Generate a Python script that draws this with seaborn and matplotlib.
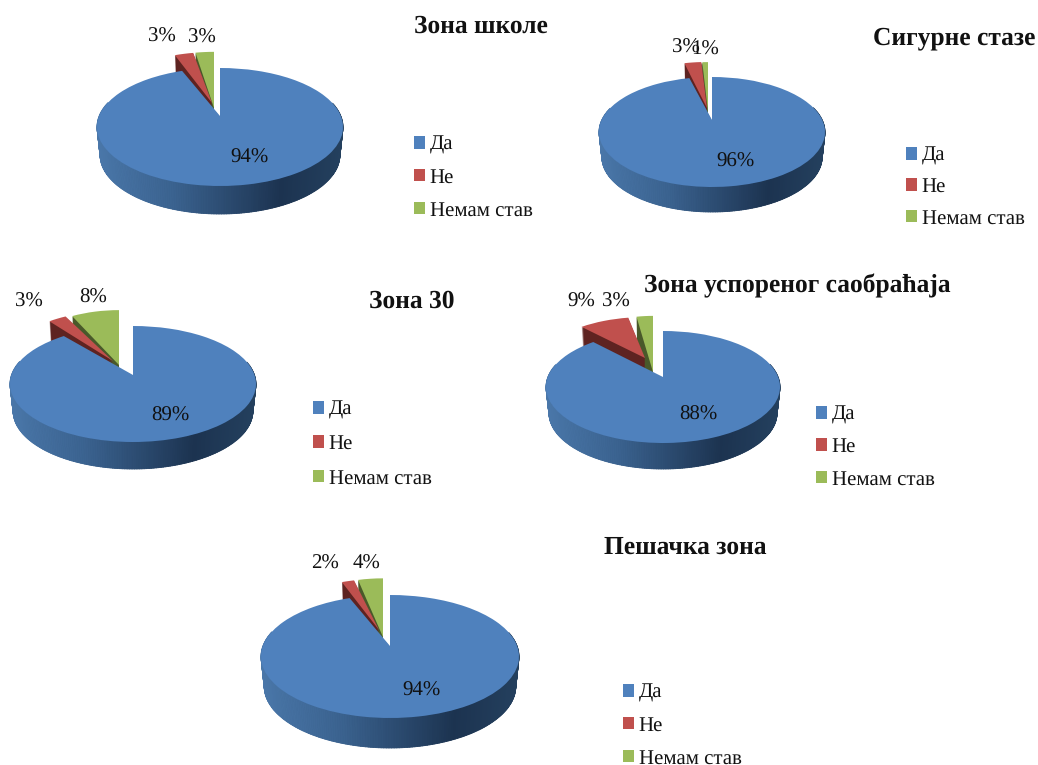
import matplotlib
matplotlib.use("Agg")
import numpy as np
import matplotlib.pyplot as plt
import seaborn as sns
from matplotlib.collections import PolyCollection
from matplotlib.colors import LinearSegmentedColormap
from matplotlib.legend import Legend
from matplotlib.patches import PathPatch
from matplotlib.transforms import Transform

# Survey answers, percent per zone type
answers = ["Да", "Не", "Немам став"]
zona_skole = [94, 3, 3]
sigurne_staze = [96, 3, 1]
zona_30 = [89, 3, 8]
zona_usporenog = [88, 9, 3]
pesacka_zona = [94, 2, 4]

titles = ["Зона школе", "Сигурне стазе", "Зона 30",
          "Зона успореног саобраћаја", "Пешачка зона"]
series = [zona_skole, sigurne_staze, zona_30, zona_usporenog, pesacka_zona]

# Layout in pixels: hub, reach up/down/sideways and rim depth of each pie;
# "red" and "green" give the pulled-out slices' tips and stretch (x, y)
layout = [
    dict(hub=(220, 116), up=48, down=70, half=123, depth=28,
         red=((212, 103), 0.98, 1.06), green=((214, 108), 0.97, 1.17),
         title=(481, 26), legend=(414, 143), step=33,
         labels=[(249, 158), (162, 37), (202, 38)]),
    dict(hub=(712, 120), up=43, down=67, half=113, depth=25,
         red=((707, 108), 1.0, 1.07), green=((708, 112), 1.0, 1.16),
         title=(954, 38), legend=(906, 154), step=31.5,
         labels=[(735, 162), (686, 48), (705, 50)]),
    dict(hub=(133, 375), up=49, down=67, half=123, depth=27,
         red=((113, 361), 0.92, 1.02), green=((119, 365), 0.91, 1.12),
         title=(412, 301), legend=(313, 408), step=34.5,
         labels=[(170, 416), (29, 302), (93, 298)]),
    dict(hub=(663, 377), up=46, down=66, half=117, depth=26,
         red=((645, 358), 0.91, 0.89), green=((653, 372), 0.90, 1.22),
         title=(797, 286), legend=(816, 413), step=32.5,
         labels=[(698, 415), (581, 302), (616, 302)]),
    dict(hub=(390, 646), up=51, down=72, half=129, depth=30,
         red=((379, 630), 0.92, 1.0), green=((383, 637), 0.92, 1.15),
         title=(685, 547), legend=(623, 691), step=33,
         labels=[(421, 691), (325, 564), (367, 564)]),
]

sns.set_theme(style="white")
plt.rcParams["font.family"] = ["Liberation Serif", "DejaVu Serif"]
plt.rcParams["text.hinting"] = "no_hinting"

top_colors = sns.color_palette(["#4f81bd", "#c0504d", "#9bbb59"])
side_colors = ["#2c4a6e", "#5e2321", "#49592a"]
rim_cmap = LinearSegmentedColormap.from_list(
    "rim", [(0, "#4a77a9"), (0.3, "#3b6390"), (0.75, "#1c3350"), (1, "#24405e")])


class PerspectiveDisc(Transform):
    """Projects the flat pie disc to pixels, tilted away from the viewer."""
    input_dims = output_dims = 2
    is_separable = False
    has_inverse = False

    def __init__(self, hub, up, down, half, depth, drop=0.0, kx=1.0, ky=1.0):
        super().__init__()
        self.hub = hub
        self.p = (down - up) / (down + up)
        self.ry = up * (1 + self.p) * ky
        self.rx = half * np.sqrt(1 - self.p ** 2) * kx
        self.drop = drop
        self.taper = 1 - 0.025 * drop / depth

    def transform_non_affine(self, values):
        pts = np.asarray(values, dtype=float)
        w = 1 + self.p * pts[:, 1]
        x = self.hub[0] + self.taper * self.rx * pts[:, 0] / w
        y = self.hub[1] - self.ry * pts[:, 1] / w + self.drop
        return np.column_stack([x, y])


fig = plt.figure(figsize=(10.38, 7.65), dpi=100, facecolor="white")
ax = fig.add_axes([0, 0, 1, 1])

for values, name, cfg in zip(series, titles, layout):
    wedges, _ = ax.pie(values, startangle=90, counterclock=False,
                       colors=top_colors, radius=1.0, frame=False)
    base = dict(hub=cfg["hub"], up=cfg["up"], down=cfg["down"],
                half=cfg["half"], depth=cfg["depth"])
    green_tip, green_kx, green_ky = cfg["green"]
    red_tip, red_kx, red_ky = cfg["red"]
    slice_geoms = [
        base,
        dict(base, hub=red_tip, kx=red_kx, ky=red_ky),
        dict(base, hub=green_tip, kx=green_kx, ky=green_ky),
    ]

    # Green first, then red, so the big blue slice ends on top of both
    for rank, idx in enumerate([2, 1, 0]):
        wedge = wedges[idx]
        geom = slice_geoms[idx]
        base_z = 2 + rank * 2
        path = wedge.get_path()
        for drop in range(cfg["depth"], 0, -1):
            ax.add_patch(PathPatch(
                path, facecolor=side_colors[idx], edgecolor="none",
                transform=PerspectiveDisc(drop=drop, **geom) + ax.transData,
                zorder=base_z))
        wedge.set_transform(PerspectiveDisc(**geom) + ax.transData)
        wedge.set_edgecolor("none")
        wedge.set_zorder(base_z + 1.5)

        if idx == 0:
            # Gradient along the visible front rim of the blue slice
            start, stop = np.deg2rad(wedge.theta1), np.deg2rad(wedge.theta2)
            angles = np.arange(start, stop, np.deg2rad(1.0))
            angles = angles[np.sin(angles) < 0.25]
            angles = np.sort(np.mod(angles - np.pi / 2, 2 * np.pi)) + np.pi / 2
            rim = np.column_stack([np.cos(angles), np.sin(angles)])
            upper = PerspectiveDisc(**geom).transform_non_affine(rim)
            lower = PerspectiveDisc(drop=cfg["depth"], **geom).transform_non_affine(rim)
            quads = [[upper[i], upper[i + 1], lower[i + 1], lower[i]]
                     for i in range(len(rim) - 1)]
            span = upper[:, 0].max() - upper[:, 0].min()
            shade = [(q[0][0] - upper[:, 0].min()) / span for q in quads]
            face = rim_cmap(np.array(shade))
            ax.add_collection(PolyCollection(
                quads, facecolors=face, edgecolors=face, linewidths=0.6,
                zorder=base_z + 1), autolim=False)

    for value, (lx, ly) in zip(values, cfg["labels"]):
        ax.text(lx, ly, f"{value}%", ha="center", va="center",
                fontsize=15, color="#111111", zorder=20)

    ax.text(*cfg["title"], name, ha="center", va="center", fontsize=18.4,
            fontweight="bold", color="#111111", zorder=20)

    legend = Legend(
        ax, wedges, answers, loc="center left", frameon=False, fontsize=15,
        bbox_to_anchor=(cfg["legend"][0] / 1038,
                        1 - (cfg["legend"][1] + cfg["step"] + 1.5) / 765),
        bbox_transform=fig.transFigure, borderpad=0, borderaxespad=0,
        handlelength=0.55, handleheight=0.55, handletextpad=0.2,
        labelspacing=(cfg["step"] - 19.3) / 20.83, labelcolor="#111111")
    legend.set_zorder(20)
    ax.add_artist(legend)

ax.set_aspect("auto")
ax.set_xlim(0, 1038)
ax.set_ylim(765, 0)
ax.axis("off")

fig.savefig("out.png", dpi=100, facecolor="white")
